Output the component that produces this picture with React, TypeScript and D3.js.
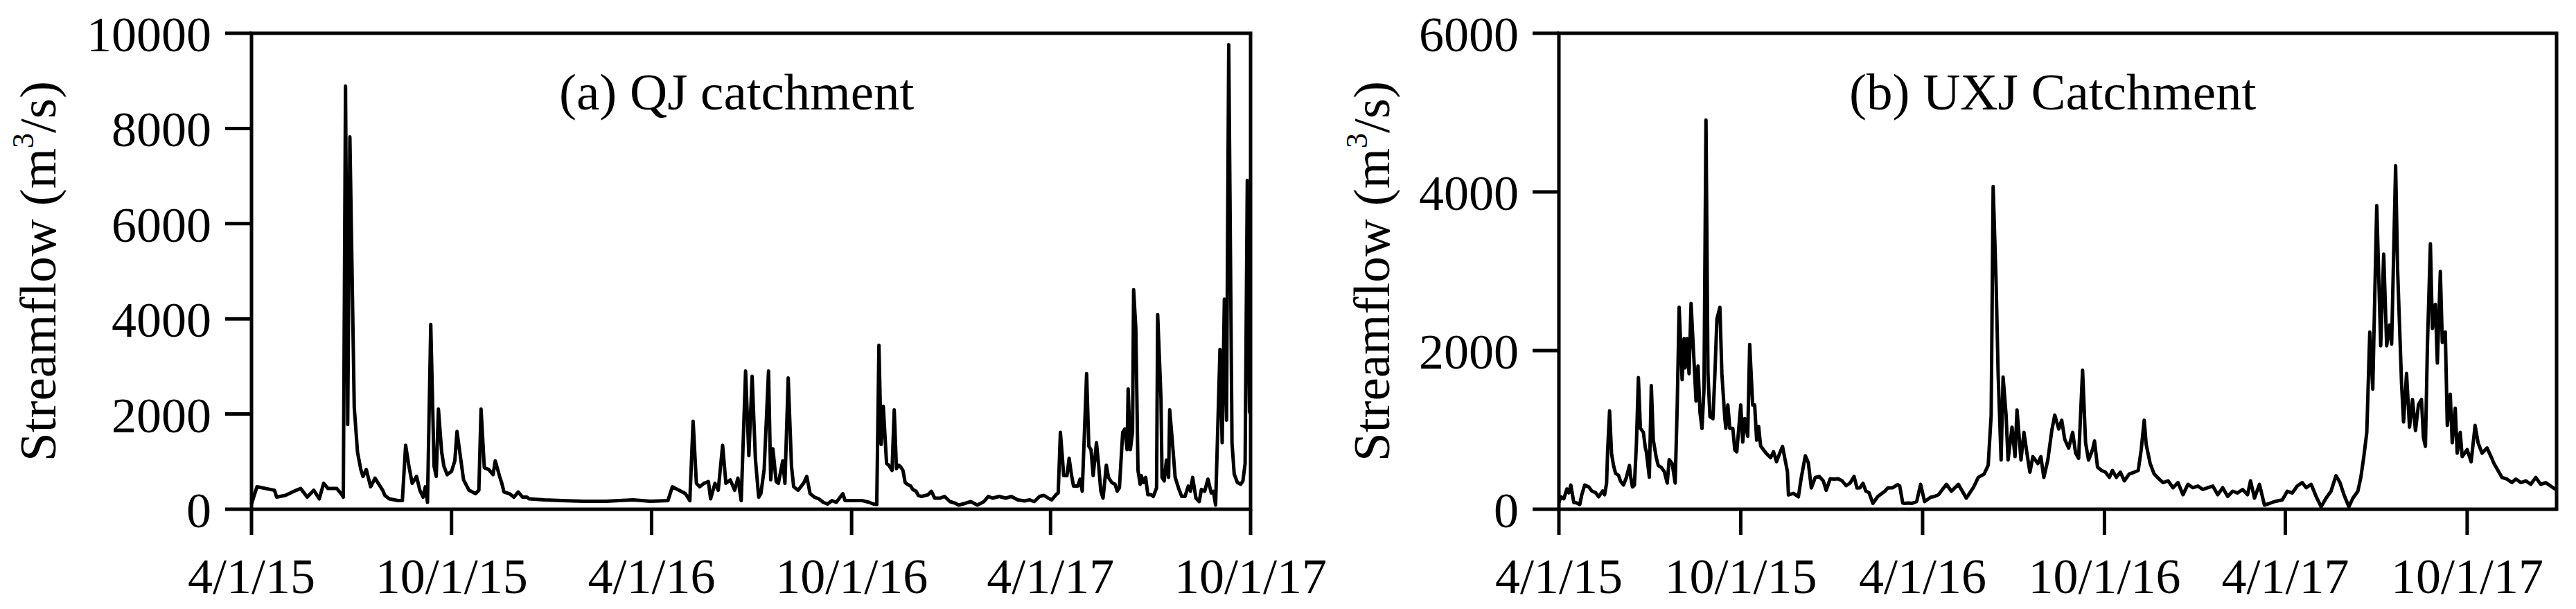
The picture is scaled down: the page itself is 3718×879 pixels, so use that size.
import React from "react";
import * as d3 from "d3";

// ---- Data (day offsets from 2015-04-01, streamflow m3/s) ----
const qjDays = [0,5,21,23,31,41,45,51,57,62,66,70,78,82,84,86,88,90,94,97,100,102,105,109,113,116,120,122,126,134,138,141,144,147,151,154,157,159,161,164,167,169,171,174,176,179,183,186,188,191,194,199,205,208,210,213,217,221,223,227,229,231,236,240,244,248,252,254,268,284,304,324,349,365,381,385,388,391,397,401,404,407,410,414,418,420,424,427,431,434,438,442,445,448,452,455,458,461,464,466,469,473,475,477,480,482,486,488,491,494,496,500,505,508,511,515,519,523,527,531,535,541,543,551,559,565,569,572,574,576,578,581,583,585,586,588,590,592,594,596,598,600,603,605,608,610,613,619,622,625,630,634,639,644,647,653,658,664,670,674,678,684,690,695,701,707,712,716,721,725,729,732,736,738,740,742,743,746,748,750,752,756,758,760,764,766,768,770,773,775,777,779,780,782,784,787,790,792,794,797,799,801,802,804,806,807,809,811,813,814,816,818,820,823,825,828,829,832,833,835,837,839,840,842,845,848,851,854,857,859,861,864,867,869,872,875,878,880,882,886,888,890,892,894,897,899,902,905,907,909,911,913,914];
const qjFlow = [109,472,399,254,290,399,435,254,399,218,544,435,435,327,254,8890,1778,7823,2141,1197,835,689,835,472,653,544,399,290,218,181,181,1343,907,544,689,399,254,472,145,3882,907,689,2105,1197,907,726,798,1016,1633,1125,617,399,327,399,2105,871,835,726,1016,689,544,363,327,254,363,254,254,218,196,181,167,167,196,167,181,472,435,399,327,181,1850,544,472,544,581,218,544,399,1343,544,617,399,653,181,2903,1125,2794,1052,254,327,835,2903,617,1270,581,544,1016,544,2758,907,472,399,544,689,327,254,218,145,109,181,145,327,181,181,181,145,109,100,3447,1360,2160,960,924,851,815,2087,851,924,887,815,560,524,487,415,378,291,269,305,378,233,233,269,160,124,87,124,160,87,160,269,233,269,233,269,196,175,196,160,269,291,233,196,305,342,1615,1033,705,705,1069,742,487,487,633,378,2851,1324,1251,705,1396,924,378,233,451,924,669,560,524,378,451,1615,1687,1251,2524,1251,1615,4611,3796,815,524,705,560,669,305,305,269,451,4087,2342,669,596,1033,669,2087,1542,669,451,269,269,487,378,669,233,160,415,378,633,342,378,87,3360,1396,4415,1869,9760,1396,742,560,524,596,960,6909,2051,2000];

const uxjDays = [0,2,5,8,10,12,15,17,21,23,26,30,33,37,40,44,46,48,49,51,53,55,57,60,62,65,68,71,72,74,76,78,80,82,85,87,88,91,93,95,98,100,103,106,109,111,114,117,119,121,124,126,127,129,131,133,136,138,140,142,144,146,148,150,152,155,157,159,162,164,167,168,170,172,175,177,179,183,185,187,190,192,195,197,199,201,203,206,209,213,216,219,222,225,228,230,231,236,241,244,248,251,254,258,262,266,269,273,277,281,285,289,293,297,300,303,306,309,312,316,321,328,331,336,341,343,346,348,352,355,360,364,368,374,378,382,386,390,395,402,410,417,422,428,432,435,437,440,442,445,447,450,452,456,459,461,465,468,471,474,477,482,485,488,492,496,499,503,506,509,513,517,520,523,527,530,533,537,539,542,546,550,554,557,561,565,569,574,579,583,586,589,591,595,599,604,608,613,618,623,628,633,638,643,648,653,658,663,668,673,678,683,688,693,696,700,705,710,715,720,728,733,738,743,748,752,757,762,767,772,777,782,786,790,795,799,804,807,810,813,816,819,821,823,827,830,833,836,838,842,844,848,850,853,856,859,862,865,868,870,872,874,877,879,882,884,887,889,892,894,897,899,902,904,907,909,914,918,922,925,929,934,938,941,945,949,954,959,963,968,973,978,983,988,993,998,1003];
const uxjFlow = [84,157,133,256,207,305,84,84,59,182,305,281,231,207,157,231,182,330,724,1240,699,551,453,428,354,305,404,551,428,281,305,822,1659,1019,970,773,724,404,1560,871,650,551,527,477,330,625,576,330,1265,2545,1634,2151,1782,2151,1708,2594,1856,1363,1806,1216,1019,1511,4907,1708,1167,1142,1708,2397,2545,1708,1142,1019,1314,1019,1019,748,724,1314,847,1142,920,2077,1314,1314,871,1043,797,748,699,650,724,600,699,792,600,471,180,200,157,404,675,588,268,401,413,358,239,384,380,384,358,297,330,413,268,271,326,227,210,74,161,227,268,271,311,292,79,74,79,74,96,314,96,151,161,183,250,314,227,314,140,271,401,445,554,1187,4067,2845,1711,620,1667,1187,620,1034,663,1252,620,969,707,467,663,576,663,401,620,991,1187,1012,1122,882,772,969,707,641,1754,838,620,751,860,532,489,467,401,489,401,467,358,445,467,489,751,1122,816,576,445,380,336,358,271,336,183,314,271,292,249,271,292,183,271,161,227,205,249,183,358,140,314,52,74,96,118,227,205,292,336,271,314,161,31,140,227,423,336,183,31,140,227,401,663,969,2234,1514,2671,3827,2060,3216,2060,2322,2082,4329,3020,1580,1100,1711,1034,1383,991,1318,1383,903,794,2060,3347,2278,2583,1842,2998,2103,2234,1056,1449,838,1274,707,969,663,751,598,1056,838,707,772,663,576,489,401,380,336,380,336,358,314,401,314,336,292,249];

const xTickLabels = ["4/1/15", "10/1/15", "4/1/16", "10/1/16", "4/1/17", "10/1/17"];
const xTickDates = ["2015-04-01", "2015-10-01", "2016-04-01", "2016-10-01", "2017-04-01", "2017-10-01"];
const qjYTicks = [0, 2000, 4000, 6000, 8000, 10000];
const uxjYTicks = [0, 2000, 4000, 6000];

const parse = d3.timeParse("%Y-%m-%d");
const START = parse("2015-04-01") as Date;
const FONT = "'Liberation Serif', 'Times New Roman', serif";

type PanelProps = {
  left: number; right: number; top: number; bottom: number;
  yMax: number; yTicks: number[]; endDate: string;
  days: number[]; flow: number[];
  title: string; titleX: number; labelX: number;
};

function Panel(p: PanelProps) {
  const x = d3.scaleTime().domain([START, parse(p.endDate) as Date]).range([p.left, p.right]);
  const y = d3.scaleLinear().domain([0, p.yMax]).range([p.bottom, p.top]);
  const pts = p.days.map((d, i) => ({ date: d3.timeDay.offset(START, d), v: p.flow[i] }));
  const line = d3.line<{ date: Date; v: number }>().x((d) => x(d.date)).y((d) => y(d.v));
  const sw = 5;
  const cy = (p.top + p.bottom) / 2;
  return (
    <g>
      <path d={line(pts) || ""} fill="none" stroke="#000" strokeWidth={5} strokeLinejoin="round" />
      <rect x={p.left} y={p.top} width={p.right - p.left} height={p.bottom - p.top} fill="none" stroke="#000" strokeWidth={sw} />
      {p.yTicks.map((t) => (
        <g key={"y" + t}>
          <line x1={p.left - 38} x2={p.left} y1={y(t)} y2={y(t)} stroke="#000" strokeWidth={sw} />
          <text x={p.left - 58} y={y(t) + 26} textAnchor="end" fontSize={72} fontFamily={FONT}>{t}</text>
        </g>
      ))}
      {xTickDates.map((ds, i) => {
        const xx = x(parse(ds) as Date);
        return (
          <g key={"x" + ds}>
            <line x1={xx} x2={xx} y1={p.bottom} y2={p.bottom + 37} stroke="#000" strokeWidth={sw} />
            <text x={xx} y={856} textAnchor="middle" fontSize={72} fontFamily={FONT}>{xTickLabels[i]}</text>
          </g>
        );
      })}
      <text x={p.titleX} y={158} fontSize={75} fontFamily={FONT}>{p.title}</text>
      <text transform={`translate(${p.labelX},${cy}) rotate(-90)`} textAnchor="middle" fontSize={75} fontFamily={FONT}>
        Streamflow (m<tspan fontSize={44} dy={-32}>3</tspan><tspan dy={32}>/s)</tspan>
      </text>
    </g>
  );
}

export default function App() {
  return (
    <svg width={3718} height={879} style={{ position: "absolute", left: 0, top: 0, background: "#fff" }}>
      <rect width={3718} height={879} fill="#fff" />
      <Panel left={363} right={1805} top={48} bottom={735} yMax={10000} yTicks={qjYTicks} endDate="2017-10-01"
        days={qjDays} flow={qjFlow} title="(a) QJ catchment" titleX={807} labelX={80} />
      <Panel left={2250} right={3690} top={48} bottom={735} yMax={6000} yTicks={uxjYTicks} endDate="2017-12-30"
        days={uxjDays} flow={uxjFlow} title="(b) UXJ Catchment" titleX={2669} labelX={2005} />
    </svg>
  );
}
